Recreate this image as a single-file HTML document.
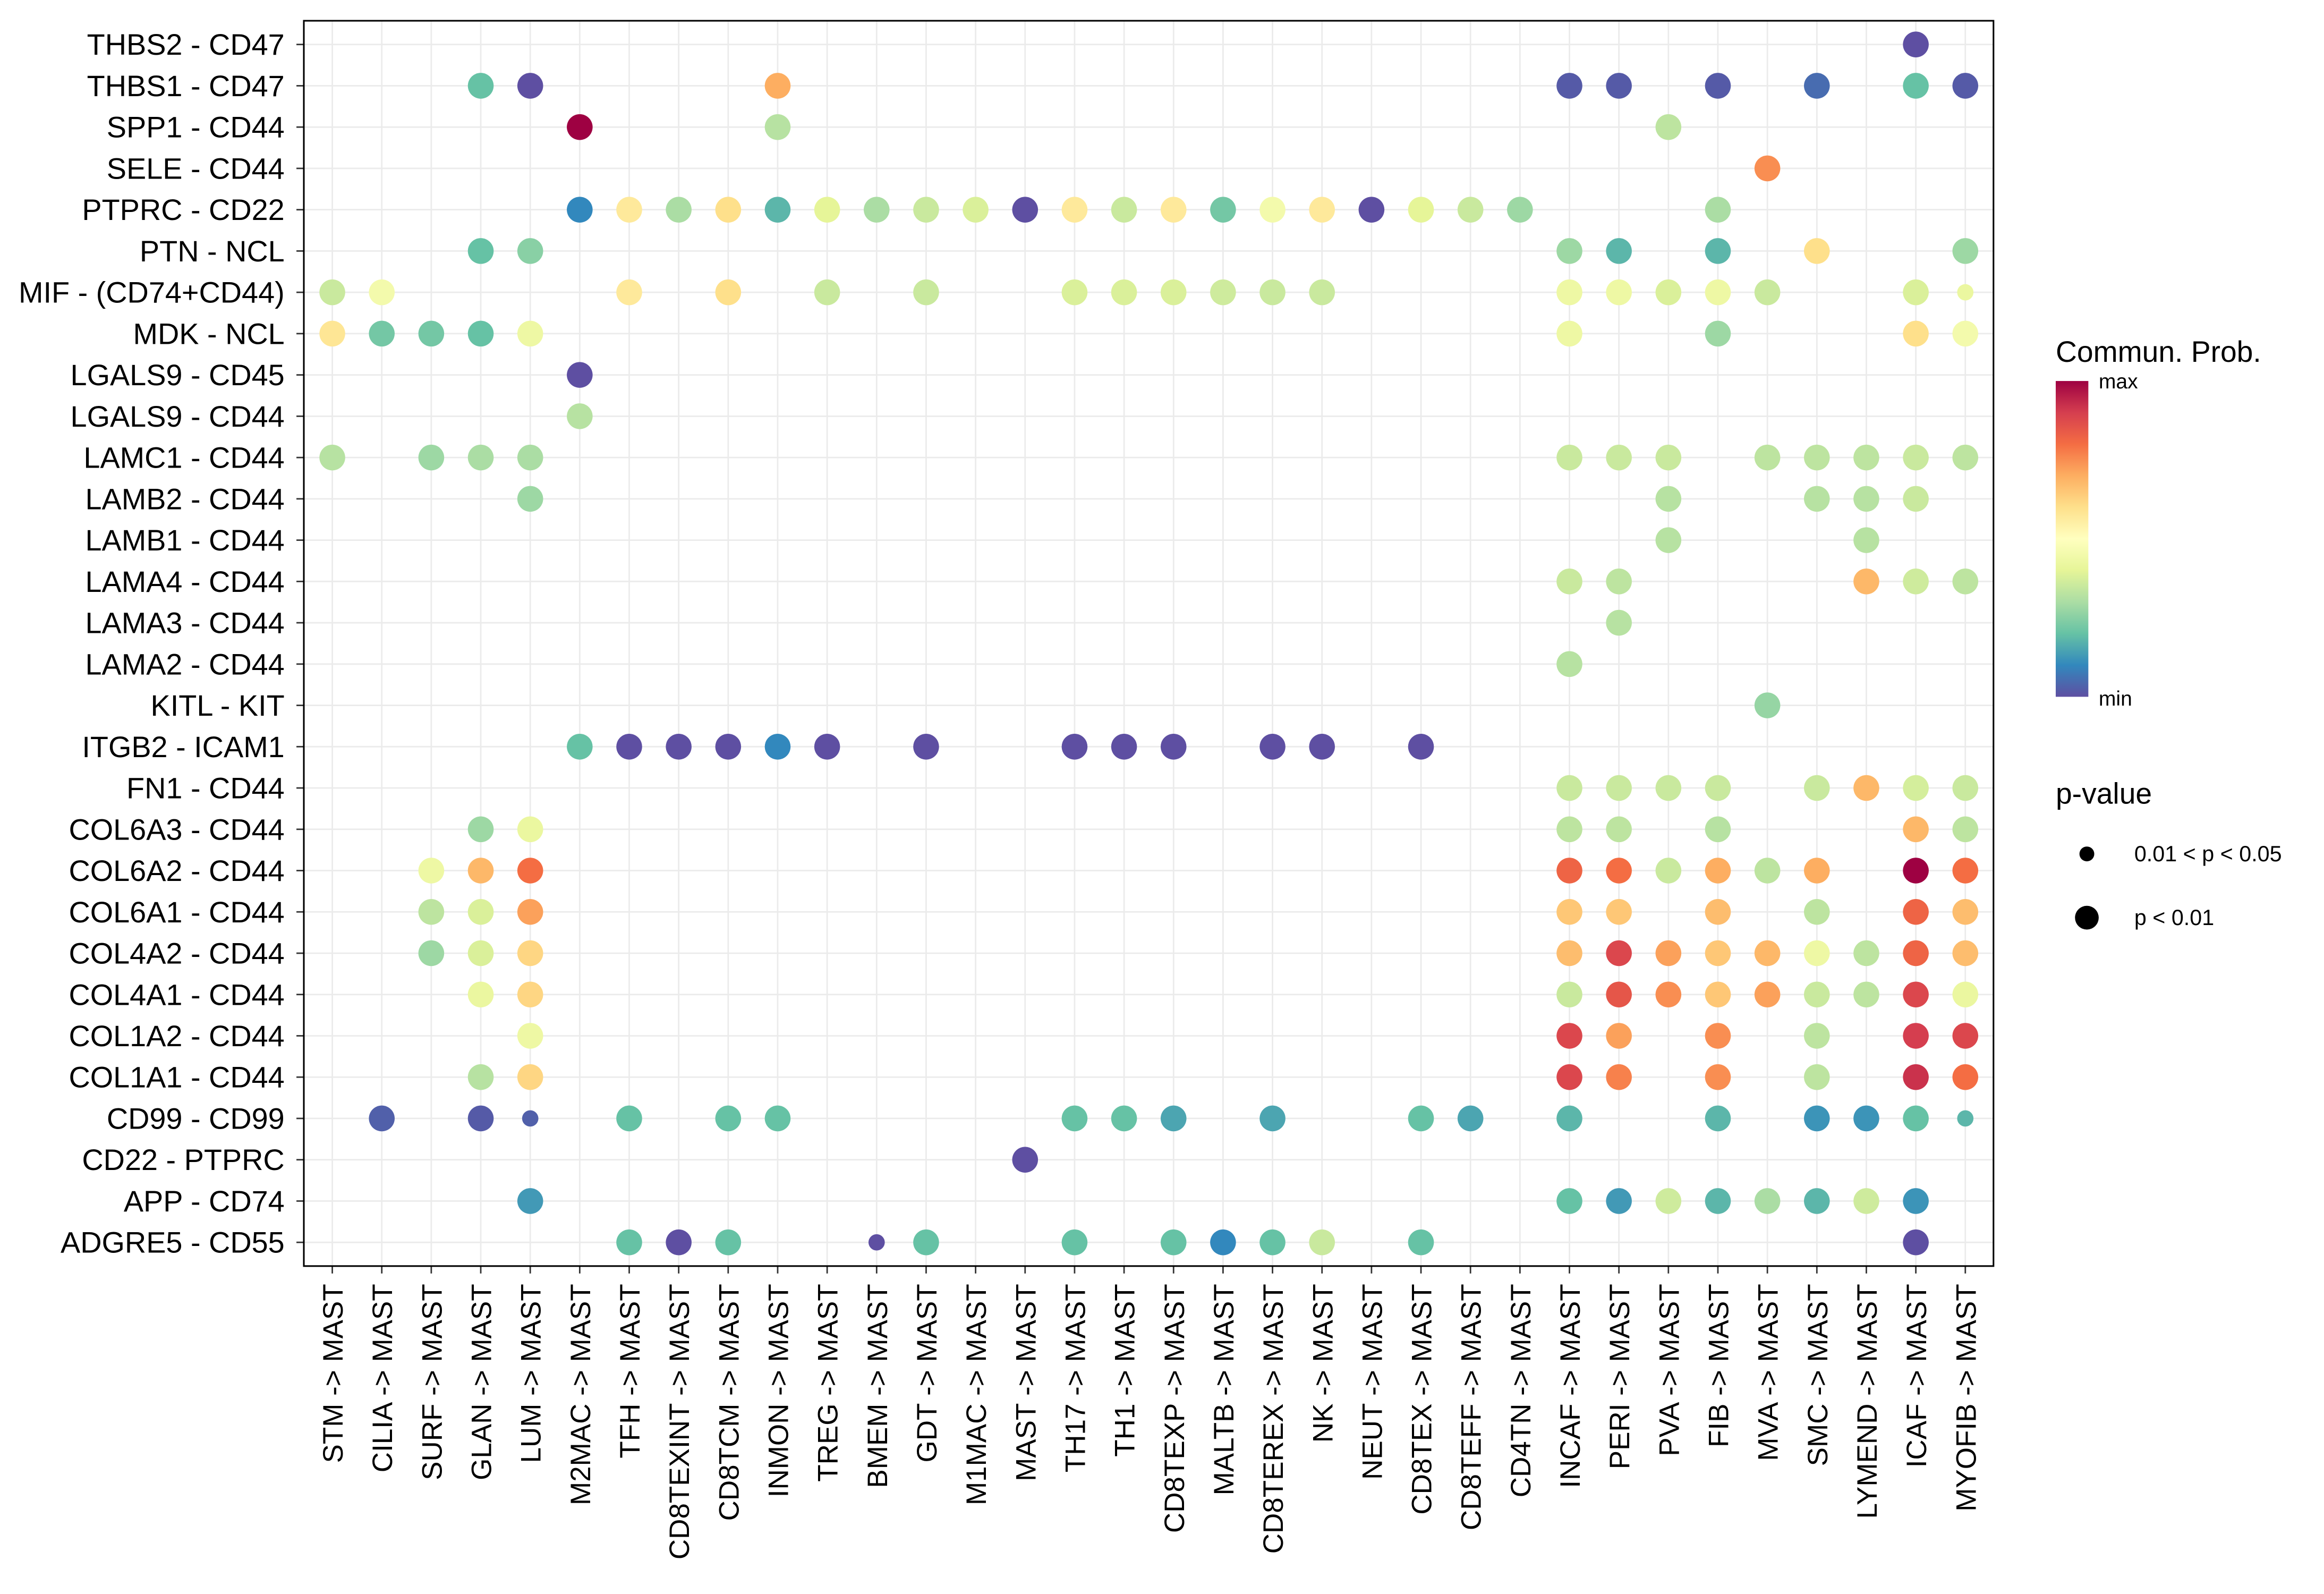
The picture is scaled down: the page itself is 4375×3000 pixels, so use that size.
<!DOCTYPE html>
<html><head><meta charset="utf-8"><style>html,body{margin:0;padding:0;background:#fff}svg{display:block}text{font-family:"Liberation Sans",sans-serif;fill:#000}</style></head>
<body>
<svg id="chart" width="4375" height="3000" viewBox="0 0 1568 1075.2" xmlns="http://www.w3.org/2000/svg">
<defs><linearGradient id="cg" x1="0" y1="1" x2="0" y2="0">
<stop offset="0" stop-color="#5e4fa2"/><stop offset="0.1" stop-color="#3288bd"/><stop offset="0.2" stop-color="#66c2a5"/><stop offset="0.3" stop-color="#abdda4"/><stop offset="0.4" stop-color="#e6f598"/><stop offset="0.5" stop-color="#ffffbf"/><stop offset="0.6" stop-color="#fee08b"/><stop offset="0.7" stop-color="#fdae61"/><stop offset="0.8" stop-color="#f46d43"/><stop offset="0.9" stop-color="#d53e4f"/><stop offset="1" stop-color="#9e0142"/></linearGradient></defs>
<g id="grid"></g>
<g id="dots"></g>
<rect x="205" y="14" width="1140" height="840" fill="none" stroke="#000" stroke-width="1.1"/>
<g id="ylab"></g>
<g id="xlab"></g>
<g>
<text x="1387" y="244" font-size="19.8">Commun. Prob.</text>
<rect x="1387" y="257" width="22" height="213" fill="url(#cg)"/>
<text x="1416" y="262" font-size="14">max</text>
<text x="1416" y="476" font-size="14">min</text>
</g>
<g>
<text x="1387" y="542" font-size="19.8">p-value</text>
<circle cx="1408" cy="576" r="5"/>
<circle cx="1408" cy="619" r="8"/>
<text x="1440" y="581" font-size="14.8">0.01 &lt; p &lt; 0.05</text>
<text x="1440" y="624" font-size="14.8">p &lt; 0.01</text>
</g>
</svg>
<script>
const cols=["STM","CILIA","SURF","GLAN","LUM","M2MAC","TFH","CD8TEXINT","CD8TCM","INMON","TREG","BMEM","GDT","M1MAC","MAST","TH17","TH1","CD8TEXP","MALTB","CD8TEREX","NK","NEUT","CD8TEX","CD8TEFF","CD4TN","INCAF","PERI","PVA","FIB","MVA","SMC","LYMEND","ICAF","MYOFIB"];
const rows=["THBS2 - CD47","THBS1 - CD47","SPP1 - CD44","SELE - CD44","PTPRC - CD22","PTN - NCL","MIF - (CD74+CD44)","MDK - NCL","LGALS9 - CD45","LGALS9 - CD44","LAMC1 - CD44","LAMB2 - CD44","LAMB1 - CD44","LAMA4 - CD44","LAMA3 - CD44","LAMA2 - CD44","KITL - KIT","ITGB2 - ICAM1","FN1 - CD44","COL6A3 - CD44","COL6A2 - CD44","COL6A1 - CD44","COL4A2 - CD44","COL4A1 - CD44","COL1A2 - CD44","COL1A1 - CD44","CD99 - CD99","CD22 - PTPRC","APP - CD74","ADGRE5 - CD55"];
// each entry: [row index, col index, prob (0=min,1=max), pvalueSmall(1 => 0.01<p<0.05)]
const points=[
[0,32,0,0],
[1,3,.2,0],[1,4,0,0],[1,9,.7,0],[1,25,.02,0],[1,26,.02,0],[1,28,.02,0],[1,30,.05,0],[1,32,.2,0],[1,33,.02,0],
[2,5,1,0],[2,9,.32,0],[2,27,.33,0],
[3,29,.75,0],
[4,5,.1,0],[4,6,.57,0],[4,7,.3,0],[4,8,.6,0],[4,9,.18,0],[4,10,.4,0],[4,11,.3,0],[4,12,.35,0],[4,13,.38,0],[4,14,0,0],[4,15,.57,0],[4,16,.35,0],[4,17,.57,0],[4,18,.22,0],[4,19,.45,0],[4,20,.57,0],[4,21,0,0],[4,22,.4,0],[4,23,.35,0],[4,24,.28,0],[4,28,.3,0],
[5,3,.2,0],[5,4,.25,0],[5,25,.28,0],[5,26,.18,0],[5,28,.18,0],[5,30,.6,0],[5,33,.28,0],
[6,0,.35,0],[6,1,.45,0],[6,6,.57,0],[6,8,.6,0],[6,10,.35,0],[6,12,.35,0],[6,15,.38,0],[6,16,.38,0],[6,17,.38,0],[6,18,.36,0],[6,19,.35,0],[6,20,.35,0],[6,25,.43,0],[6,26,.43,0],[6,27,.38,0],[6,28,.43,0],[6,29,.35,0],[6,32,.38,0],[6,33,.42,1],
[7,0,.58,0],[7,1,.22,0],[7,2,.22,0],[7,3,.2,0],[7,4,.43,0],[7,25,.43,0],[7,28,.28,0],[7,32,.6,0],[7,33,.45,0],
[8,5,0,0],[9,5,.32,0],
[10,0,.32,0],[10,2,.28,0],[10,3,.3,0],[10,4,.3,0],[10,25,.35,0],[10,26,.35,0],[10,27,.35,0],[10,29,.33,0],[10,30,.33,0],[10,31,.33,0],[10,32,.35,0],[10,33,.33,0],
[11,4,.28,0],[11,27,.32,0],[11,30,.32,0],[11,31,.32,0],[11,32,.35,0],
[12,27,.32,0],[12,31,.32,0],
[13,25,.35,0],[13,26,.33,0],[13,31,.68,0],[13,32,.36,0],[13,33,.33,0],
[14,26,.32,0],[15,25,.32,0],[16,29,.27,0],
[17,5,.2,0],[17,6,0,0],[17,7,0,0],[17,8,0,0],[17,9,.1,0],[17,10,0,0],[17,12,0,0],[17,15,0,0],[17,16,0,0],[17,17,0,0],[17,19,0,0],[17,20,0,0],[17,22,0,0],
[18,25,.35,0],[18,26,.35,0],[18,27,.35,0],[18,28,.35,0],[18,30,.35,0],[18,31,.68,0],[18,32,.37,0],[18,33,.35,0],
[19,3,.28,0],[19,4,.42,0],[19,25,.33,0],[19,26,.33,0],[19,28,.32,0],[19,32,.68,0],[19,33,.33,0],
[20,2,.43,0],[20,3,.68,0],[20,4,.8,0],[20,25,.82,0],[20,26,.8,0],[20,27,.35,0],[20,28,.7,0],[20,29,.33,0],[20,30,.7,0],[20,32,1,0],[20,33,.8,0],
[21,2,.33,0],[21,3,.38,0],[21,4,.72,0],[21,25,.65,0],[21,26,.65,0],[21,28,.67,0],[21,30,.33,0],[21,32,.82,0],[21,33,.67,0],
[22,2,.28,0],[22,3,.38,0],[22,4,.62,0],[22,25,.67,0],[22,26,.88,0],[22,27,.72,0],[22,28,.65,0],[22,29,.68,0],[22,30,.43,0],[22,31,.33,0],[22,32,.82,0],[22,33,.67,0],
[23,3,.42,0],[23,4,.62,0],[23,25,.35,0],[23,26,.85,0],[23,27,.75,0],[23,28,.65,0],[23,29,.72,0],[23,30,.35,0],[23,31,.33,0],[23,32,.88,0],[23,33,.42,0],
[24,4,.43,0],[24,25,.88,0],[24,26,.72,0],[24,28,.75,0],[24,30,.33,0],[24,32,.9,0],[24,33,.88,0],
[25,3,.32,0],[25,4,.62,0],[25,25,.88,0],[25,26,.77,0],[25,28,.75,0],[25,30,.33,0],[25,32,.92,0],[25,33,.8,0],
[26,1,.03,0],[26,3,.02,0],[26,4,.03,1],[26,6,.2,0],[26,8,.2,0],[26,9,.2,0],[26,15,.2,0],[26,16,.2,0],[26,17,.15,0],[26,19,.15,0],[26,22,.2,0],[26,23,.15,0],[26,25,.18,0],[26,28,.18,0],[26,30,.12,0],[26,31,.12,0],[26,32,.2,0],[26,33,.18,1],
[27,14,0,0],
[28,4,.13,0],[28,25,.2,0],[28,26,.13,0],[28,27,.36,0],[28,28,.18,0],[28,29,.3,0],[28,30,.18,0],[28,31,.36,0],[28,32,.12,0],
[29,6,.2,0],[29,7,0,0],[29,8,.2,0],[29,11,0,1],[29,12,.2,0],[29,15,.2,0],[29,17,.2,0],[29,18,.1,0],[29,19,.2,0],[29,20,.35,0],[29,22,.2,0],[29,32,0,0]
];
const pal=["#5e4fa2","#3288bd","#66c2a5","#abdda4","#e6f598","#ffffbf","#fee08b","#fdae61","#f46d43","#d53e4f","#9e0142"];
function color(v){const t=Math.max(0,Math.min(1,v))*10,i=Math.min(9,Math.floor(t)),f=t-i;
const a=pal[i],b=pal[i+1];const h=(s,k)=>parseInt(s.substr(1+2*k,2),16);
return "rgb("+[0,1,2].map(k=>Math.round(h(a,k)+(h(b,k)-h(a,k))*f)).join(",")+")";}
const x0=224.2,dx=(1326-224.2)/33,y0=30,dy=(838-30)/29;
const xs=i=>x0+i*dx, ys=j=>y0+j*dy;
const NS="http://www.w3.org/2000/svg";
function mk(tag,attrs,parent){const e=document.createElementNS(NS,tag);for(const k in attrs)e.setAttribute(k,attrs[k]);parent.appendChild(e);return e;}
const grid=document.getElementById('grid'),dots=document.getElementById('dots'),yl=document.getElementById('ylab'),xl=document.getElementById('xlab');
cols.forEach((c,i)=>{const l=mk('line',{x1:xs(i),x2:xs(i),y1:14,y2:854,stroke:'#ebebeb','stroke-width':1},grid);

const tk=mk('line',{x1:xs(i),x2:xs(i),y1:854,y2:859,stroke:'#333','stroke-width':1},grid);

const t=mk('text',{x:0,y:0,'font-size':19,'text-anchor':'end',transform:`translate(${xs(i)+7},866) rotate(-90)`},xl);
t.textContent=c+" -> MAST";});
rows.forEach((r,j)=>{const l=mk('line',{x1:205,x2:1345,y1:ys(j),y2:ys(j),stroke:'#ebebeb','stroke-width':1},grid);

const tk=mk('line',{x1:200,x2:205,y1:ys(j),y2:ys(j),stroke:'#333','stroke-width':1},grid);

const t=mk('text',{x:192,y:ys(j)+7,'font-size':20,'text-anchor':'end'},yl);
t.textContent=r;});
points.forEach(p=>{const c=mk('circle',{cx:xs(p[1]),cy:ys(p[0]),r:p[3]?5.5:8.7,fill:color(p[2])},dots);
});
</script>
</body></html>
